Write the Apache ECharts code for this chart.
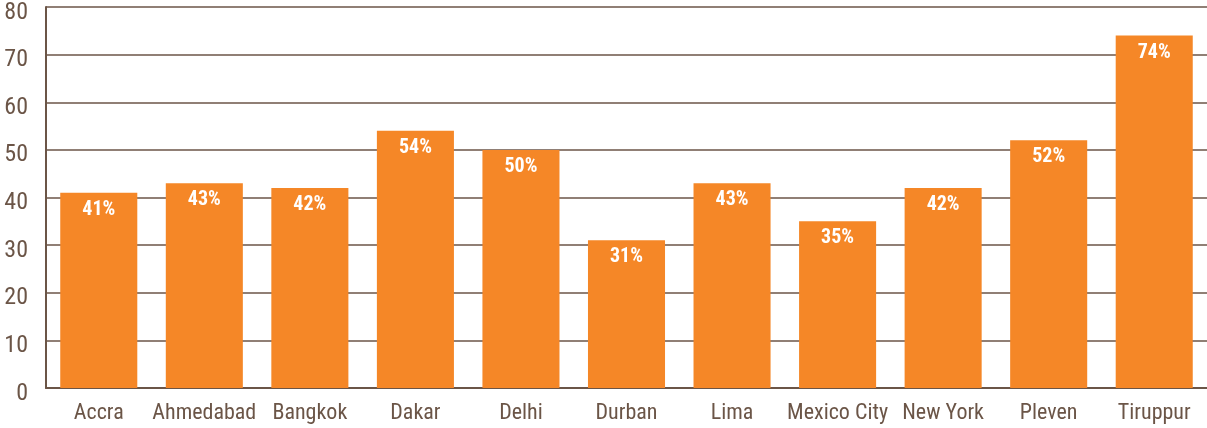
<!DOCTYPE html>
<html>
<head>
<meta charset="utf-8">
<script src="https://cdn.jsdelivr.net/npm/echarts@6/dist/echarts.min.js"></script>
<style>
  html, body { margin: 0; padding: 0; background: #fff; }
  #chart { width: 1207px; height: 428px; }
</style>
</head>
<body>
<div id="chart"></div>
<script>
const cities = ['Accra', 'Ahmedabad', 'Bangkok', 'Dakar', 'Delhi', 'Durban', 'Lima', 'Mexico City', 'New York', 'Pleven', 'Tiruppur']
const shares = [41, 43, 42, 54, 50, 31, 43, 35, 42, 52, 74]
const yTicks = [0, 10, 20, 30, 40, 50, 60, 70, 80]

const brown = '#6b5547'
const orange = '#f58727'
const font = '"Roboto Condensed", "Liberation Sans Narrow", Roboto, sans-serif'

const chart = echarts.init(document.getElementById('chart'))

chart.setOption({
  animation: false,
  grid: {
    top: 7,
    left: 46,
    right: 0,
    bottom: 40,
    outerBoundsMode: 'none'
  },
  xAxis: {
    type: 'category',
    data: cities,
    axisLine: {
      lineStyle: { color: brown, width: 2 }
    },
    axisTick: {
      inside: true,
      length: 9,
      lineStyle: { color: brown, width: 1.5 }
    },
    axisLabel: {
      interval: 0,
      margin: 14,
      color: brown,
      fontSize: 22,
      fontFamily: font
    }
  },
  yAxis: {
    type: 'value',
    min: yTicks[0],
    max: yTicks[yTicks.length - 1],
    interval: 10,
    axisLine: {
      show: true,
      lineStyle: { color: brown, width: 2 }
    },
    axisTick: { show: false },
    axisLabel: {
      margin: 18,
      verticalAlign: 'top',
      lineHeight: 11,
      color: brown,
      fontSize: 24,
      fontFamily: font
    },
    splitLine: {
      lineStyle: { color: brown, width: 1.5 }
    }
  },
  series: [{
    type: 'bar',
    data: shares,
    barWidth: '73%',
    itemStyle: { color: orange },
    label: {
      show: true,
      position: 'insideTop',
      distance: 7,
      color: '#fff',
      fontWeight: 'bold',
      fontSize: 20,
      fontFamily: font,
      formatter: '{c}%'
    }
  }]
})
</script>
</body>
</html>
